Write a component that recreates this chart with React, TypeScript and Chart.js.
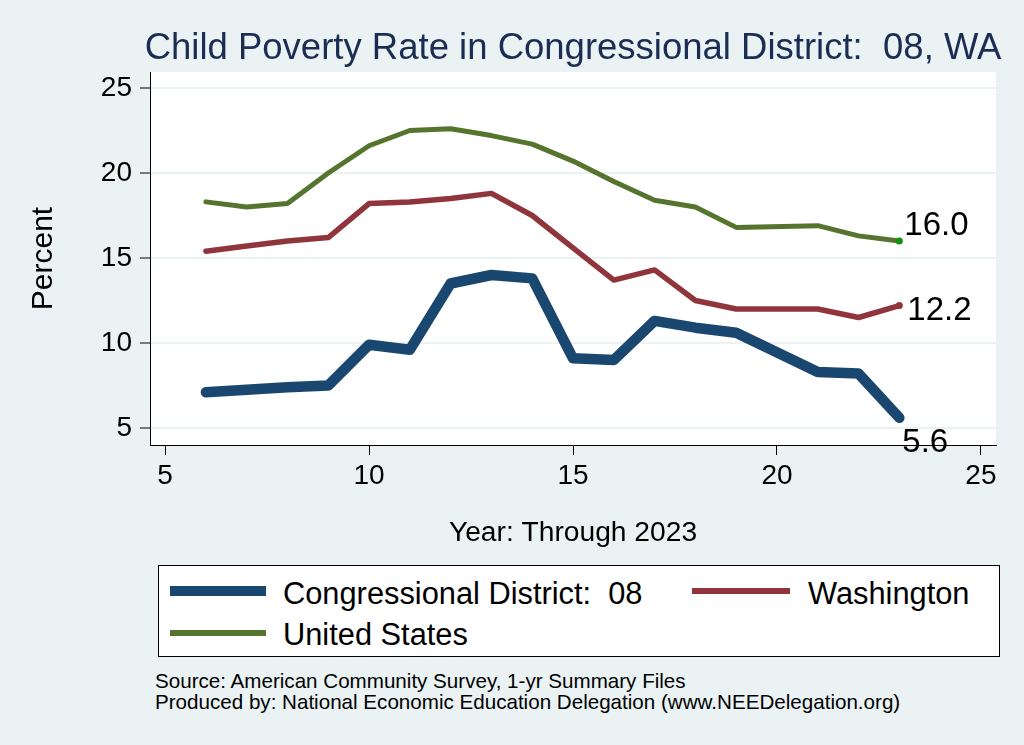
import { useEffect, useRef } from "react";
import { Chart, registerables } from "chart.js";

Chart.register(...registerables);

// ---- data ----
const years = [6, 7, 8, 9, 10, 11, 12, 13, 14, 15, 16, 17, 18, 19, 21, 22, 23];
const districtRate = [7.1, 7.25, 7.4, 7.5, 9.9, 9.6, 13.5, 14.0, 13.8, 9.1, 9.0, 11.3, 10.9, 10.6, 8.3, 8.2, 5.6];
const washingtonRate = [15.4, 15.7, 16.0, 16.2, 18.2, 18.3, 18.5, 18.8, 17.5, 15.6, 13.7, 14.3, 12.5, 12.0, 12.0, 11.5, 12.2];
const usRate = [18.3, 18.0, 18.2, 20.0, 21.6, 22.5, 22.6, 22.2, 21.7, 20.7, 19.5, 18.4, 18.0, 16.8, 16.9, 16.3, 16.0];
const xTicks = [5, 10, 15, 20, 25];
const yTicks = [5, 10, 15, 20, 25];
const seriesNames = ["Congressional District:  08", "Washington", "United States"];
const endLabels = ["5.6", "12.2", "16.0"];

const titleText = "Child Poverty Rate in Congressional District:  08, WA";
const xTitle = "Year: Through 2023";
const yTitle = "Percent";
const sourceLines = [
  "Source: American Community Survey, 1-yr Summary Files",
  "Produced by: National Economic Education Delegation (www.NEEDelegation.org)",
];

// ---- styles ----
const FONT = '"Liberation Sans", Arial, Helvetica, sans-serif';
const BG = "#EAF2F3";
const colors = ["#1A476F", "#90353B", "#55752F"];
const widths = [10.5, 5.5, 5];
const endMarkerColors = ["#1A476F", "#90353B", "#119011"];
const labelOffsets = [
  { dx: 3, dy: 34 },
  { dx: 8, dy: 14 },
  { dx: 5, dy: -6 },
];

export default function App() {
  const ref = useRef<HTMLCanvasElement>(null);

  useEffect(() => {
    const canvas = ref.current!;
    const last = years.length - 1;
    const series = [districtRate, washingtonRate, usRate];
    const makeData = (vals: number[]) => years.map((x, i) => ({ x, y: vals[i] }));

    const overlay = {
      id: "overlay",
      beforeDraw(chart: any) {
        const { ctx, chartArea } = chart;
        ctx.save();
        ctx.fillStyle = "#FFFFFF";
        ctx.fillRect(chartArea.left, chartArea.top, chartArea.right - chartArea.left, chartArea.bottom - chartArea.top);
        ctx.restore();
      },
      afterDatasetsDraw(chart: any) {
        const { ctx, chartArea, scales } = chart;
        ctx.save();
        // title
        ctx.font = `36.5px ${FONT}`;
        ctx.fillStyle = "#1C2D54";
        ctx.textAlign = "center";
        ctx.textBaseline = "alphabetic";
        ctx.fillText(titleText, (chartArea.left + chartArea.right) / 2, 59);
        // end labels
        ctx.font = `33px ${FONT}`;
        ctx.fillStyle = "#000";
        ctx.textAlign = "left";
        series.forEach((vals, i) => {
          const px = scales.x.getPixelForValue(years[last]);
          const py = scales.y.getPixelForValue(vals[last]);
          ctx.fillText(endLabels[i], px + labelOffsets[i].dx, py + labelOffsets[i].dy);
        });
        ctx.restore();
      },
    };

    const datasets = series.map((vals, i) => ({
      label: seriesNames[i],
      data: makeData(vals),
      borderColor: colors[i],
      backgroundColor: colors[i],
      borderWidth: widths[i],
      borderJoinStyle: "round" as const,
      borderCapStyle: "round" as const,
      tension: 0,
      fill: false,
      pointRadius: (c: any) => (c.dataIndex === last ? 3.5 : 0),
      pointBackgroundColor: endMarkerColors[i],
      pointBorderWidth: 0,
      pointHoverRadius: 0,
    }));

    const tickFont = { family: FONT, size: 28 };

    const chart = new Chart(canvas, {
      type: "line",
      data: { datasets },
      options: {
        animation: false,
        responsive: false,
        devicePixelRatio: 1,
        layout: { padding: { left: 0, top: 72, right: 28, bottom: 0 } },
        plugins: {
          legend: { display: false },
          tooltip: { enabled: false },
          title: { display: false },
        },
        scales: {
          x: {
            type: "linear",
            min: 4.63,
            max: 25.37,
            afterBuildTicks: (s: any) => {
              s.ticks = xTicks.map((v) => ({ value: v }));
            },
            afterFit: (s: any) => {
              s.height = 115;
            },
            ticks: { autoSkip: false, maxRotation: 0, padding: 4, font: tickFont, color: "#000" },
            grid: { drawOnChartArea: false, drawTicks: true, tickLength: 10, tickColor: "#000", tickWidth: 1 },
            border: { display: true, color: "#000", width: 1 },
            title: {
              display: true,
              text: xTitle,
              font: { family: FONT, size: 28.2 },
              color: "#000",
              padding: { top: 0, bottom: 10 },
            },
          },
          y: {
            type: "linear",
            min: 4,
            max: 25.94,
            afterBuildTicks: (s: any) => {
              s.ticks = yTicks.map((v) => ({ value: v }));
            },
            afterFit: (s: any) => {
              s.width = 150;
            },
            ticks: { padding: 8, font: tickFont, color: "#000" },
            grid: { color: BG, lineWidth: 2, drawTicks: true, tickLength: 10, tickColor: "#000", tickWidth: 1 },
            border: { display: true, color: "#000", width: 1 },
            title: {
              display: true,
              text: yTitle,
              font: { family: FONT, size: 30 },
              color: "#000",
              padding: { top: 26, bottom: 0 },
            },
          },
        },
      },
      plugins: [overlay],
    } as any);

    return () => chart.destroy();
  }, []);

  const legendText: React.CSSProperties = {
    position: "absolute",
    fontFamily: FONT,
    fontSize: 30.8,
    lineHeight: "34px",
    height: 34,
    whiteSpace: "pre",
    color: "#000",
  };

  return (
    <div
      style={{
        position: "absolute",
        left: 0,
        top: 0,
        width: 1024,
        height: 745,
        background: BG,
        overflow: "hidden",
      }}
    >
      <canvas
        ref={ref}
        width={1024}
        height={560}
        style={{ position: "absolute", left: 0, top: 0, width: 1024, height: 560, display: "block" }}
      />
      <div
        style={{
          position: "absolute",
          left: 158,
          top: 565,
          width: 842,
          height: 92,
          boxSizing: "border-box",
          border: "1px solid #000",
          background: "#fff",
        }}
      >
        <div style={{ position: "absolute", left: 11, top: 26 - widths[0] / 2 - 1, width: 96, height: widths[0], background: colors[0] }} />
        <div style={{ ...legendText, left: 124, top: 29 - 17 - 1 }}>{seriesNames[0]}</div>
        <div style={{ position: "absolute", left: 533, top: 26 - 3 - 1, width: 98, height: 6, background: colors[1] }} />
        <div style={{ ...legendText, left: 649, top: 29 - 17 - 1 }}>{seriesNames[1]}</div>
        <div style={{ position: "absolute", left: 11, top: 68 - 3 - 1, width: 96, height: 6, background: colors[2] }} />
        <div style={{ ...legendText, left: 124, top: 70 - 17 - 1 }}>{seriesNames[2]}</div>
      </div>
      {sourceLines.map((t, i) => (
        <div
          key={i}
          style={{
            position: "absolute",
            left: 155,
            top: 670 + i * 21,
            fontFamily: FONT,
            fontSize: 20.6,
            lineHeight: "22px",
            whiteSpace: "pre",
            color: "#000",
          }}
        >
          {t}
        </div>
      ))}
    </div>
  );
}
